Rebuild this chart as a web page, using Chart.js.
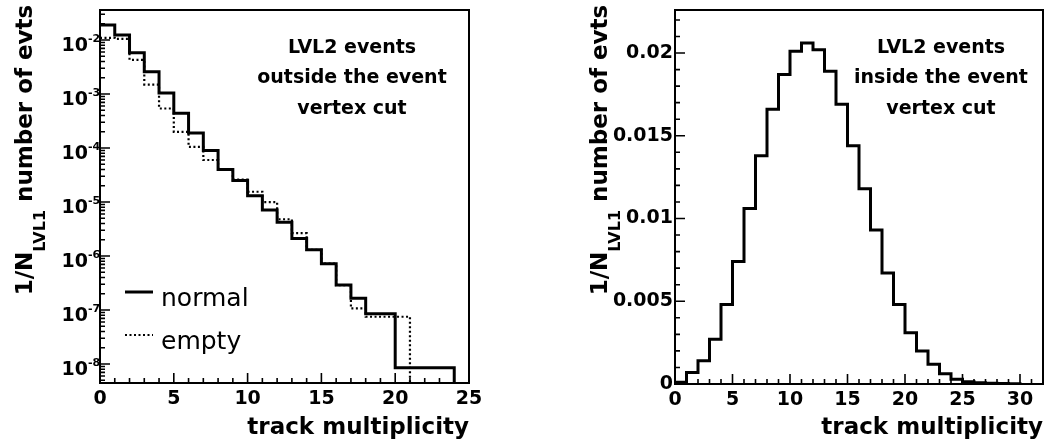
<!DOCTYPE html>
<html>
<head>
<meta charset="utf-8">
<script src="https://cdn.jsdelivr.net/npm/chart.js@4.4.1/dist/chart.umd.min.js"></script>
<style>
    body { margin: 0; background: #fff; }
    #wrap { position: relative; width: 1046px; height: 446px; overflow: hidden; }
    .pad { position: absolute; top: 0; height: 446px; }
</style>
</head>
<body>
<div id="wrap">
    <div class="pad" style="left: 0; width: 489px;"><canvas id="outsideChart"></canvas></div>
    <div class="pad" style="left: 575px; width: 471px;"><canvas id="insideChart"></canvas></div>
</div>
<script>
// Bin contents per unit-width bin, starting at track multiplicity 0
const outsideNormal = [0.019, 0.0124, 0.0058, 0.0026, 0.00105, 4.4e-4, 1.9e-4, 9.0e-5,
    4.0e-5, 2.5e-5, 1.3e-5, 7.1e-6, 4.2e-6, 2.1e-6, 1.3e-6, 7.2e-7, 2.9e-7, 1.65e-7,
    8.5e-8, 8.5e-8, 8.5e-9, 8.5e-9, 8.5e-9, 8.5e-9];
const outsideEmpty = [0.011, 0.0105, 0.0043, 0.0015, 5.4e-4, 2.0e-4, 1.05e-4, 6.0e-5,
    4.0e-5, 2.6e-5, 1.55e-5, 1.0e-5, 4.8e-6, 2.65e-6, 1.3e-6, 7.2e-7, 2.9e-7, 1.07e-7,
    7.5e-8, 7.5e-8, 7.5e-8];
const insideCounts = [0.0001, 0.0007, 0.0014, 0.0027, 0.0048, 0.0074, 0.0106, 0.0138,
    0.0166, 0.0187, 0.0201, 0.0206, 0.0202, 0.0189, 0.0169, 0.0144, 0.0118, 0.0093,
    0.0067, 0.0048, 0.0031, 0.0020, 0.0012, 0.00062, 0.00028, 0.00014, 0.00007,
    0.00005, 0.00003, 0.00002];

// Axis ranges and tick labels
const outsideXTicks = [0, 5, 10, 15, 20, 25];
const outsideYDecades = [-8, -7, -6, -5, -4, -3, -2];
const outsideYMin = 4.45e-9;
const outsideYMax = 0.036;
const insideXTicks = [0, 5, 10, 15, 20, 25, 30];
const insideYTicks = [0, 0.005, 0.01, 0.015, 0.02];
const insideYMax = 0.0226;

const seriesLabels = ['normal', 'empty'];
const outsideNote = ['LVL2 events', 'outside the event', 'vertex cut'];
const insideNote = ['LVL2 events', 'inside the event', 'vertex cut'];
const xTitle = 'track multiplicity';

const FONT = "'DejaVu Sans', sans-serif";
Chart.defaults.font.family = FONT;
Chart.defaults.color = '#000';

// Turn bin contents into step points, closing the last bin down to the axis
function histogramPoints(contents, floor) {
    const pts = contents.map((v, i) => ({ x: i, y: v }));
    const n = contents.length;
    pts.push({ x: n, y: contents[n - 1] });
    pts.push({ x: n, y: floor });
    return pts;
}

// Rotated y title with the LVL1 subscript
function drawYTitle(ctx, baseX, centerY) {
    const main = 'bold 23px ' + FONT;
    const sub = 'bold 16px ' + FONT;
    const parts = [['1/N', main, 0], ['LVL1', sub, 13], [' number of evts', main, 0]];
    let total = 0;
    parts.forEach(p => { ctx.font = p[1]; total += ctx.measureText(p[0]).width; });
    ctx.save();
    ctx.translate(baseX, centerY);
    ctx.rotate(-Math.PI / 2);
    ctx.textAlign = 'left';
    ctx.textBaseline = 'alphabetic';
    let pos = -total / 2;
    parts.forEach(p => {
        ctx.font = p[1];
        ctx.fillText(p[0], pos, p[2]);
        pos += ctx.measureText(p[0]).width;
    });
    ctx.restore();
}

// Frame, inward ticks, decade labels, note text and legend
const rootStyle = {
    id: 'rootStyle',
    afterDraw(chart, args, opts) {
        const { ctx, chartArea: area } = chart;
        const x = chart.scales.x;
        const y = chart.scales.y;
        ctx.save();
        ctx.strokeStyle = '#000';
        ctx.fillStyle = '#000';

        ctx.lineWidth = 1.6;
        ctx.beginPath();
        for (let i = 0; i * opts.xMinor <= x.max + 1e-9; i++) {
            const px = x.getPixelForValue(i * opts.xMinor);
            const len = i % opts.xPerMajor === 0 ? 10 : 5;
            ctx.moveTo(px, area.bottom);
            ctx.lineTo(px, area.bottom - len);
        }
        if (y.type === 'logarithmic') {
            const lo = Math.floor(Math.log10(y.min));
            const hi = Math.ceil(Math.log10(y.max));
            for (let e = lo; e <= hi; e++) {
                for (let m = 1; m <= 9; m++) {
                    const v = m * Math.pow(10, e);
                    if (v < y.min || v > y.max) continue;
                    const py = y.getPixelForValue(v);
                    ctx.moveTo(area.left, py);
                    ctx.lineTo(area.left + (m === 1 ? 10 : 5), py);
                }
            }
        } else {
            for (let i = 0; i * opts.yMinor <= y.max + 1e-12; i++) {
                const py = y.getPixelForValue(i * opts.yMinor);
                ctx.moveTo(area.left, py);
                ctx.lineTo(area.left + (i % opts.yPerMajor === 0 ? 10 : 5), py);
            }
        }
        ctx.stroke();

        ctx.lineWidth = 2;
        ctx.strokeRect(area.left, area.top, area.width, area.height);

        // 10^n labels on the log axis
        if (opts.decades) {
            opts.decades.forEach(e => {
                const py = y.getPixelForValue(Math.pow(10, e));
                const right = area.left - 12;
                ctx.font = 'bold 19px ' + FONT;
                ctx.textAlign = 'right';
                ctx.textBaseline = 'alphabetic';
                ctx.fillText('10', right, py + 11);
                ctx.font = 'bold 11px ' + FONT;
                ctx.textAlign = 'left';
                ctx.fillText(String(e), right, py + 2);
            });
        }

        drawYTitle(ctx, area.left - 68, 150);

        ctx.font = 'bold 19px ' + FONT;
        ctx.textAlign = 'center';
        ctx.textBaseline = 'middle';
        opts.note.forEach((line, i) => {
            ctx.fillText(line, area.left + opts.noteX, area.top + 38 + i * 30.5);
        });

        if (opts.legend) {
            chart.data.datasets.forEach((ds, i) => {
                const ly = area.top + 282 + i * 43;
                ctx.lineWidth = ds.borderWidth;
                ctx.setLineDash(ds.borderDash || []);
                ctx.beginPath();
                ctx.moveTo(area.left + 25, ly);
                ctx.lineTo(area.left + 53, ly);
                ctx.stroke();
                ctx.setLineDash([]);
                ctx.font = '25px ' + FONT;
                ctx.textAlign = 'left';
                ctx.textBaseline = 'alphabetic';
                ctx.fillText(ds.label, area.left + 61, ly + 14);
            });
        }
        ctx.restore();
    }
};

function xScale(max, ticks, height) {
    return {
        type: 'linear',
        min: 0,
        max: max,
        grid: { display: false, drawTicks: false },
        border: { display: false },
        afterBuildTicks: s => { s.ticks = ticks.map(v => ({ value: v })); },
        afterFit: s => { s.height = height; },
        ticks: {
            font: { size: 19, weight: 'bold' },
            color: '#000',
            padding: 5,
            maxRotation: 0,
            autoSkip: false
        },
        title: {
            display: true,
            text: xTitle,
            align: 'end',
            color: '#000',
            font: { size: 23, weight: 'bold' },
            padding: { top: 0, bottom: 4 }
        }
    };
}

// Log-scale chart of events outside the vertex cut
function createOutsideChart() {
    const ctx = document.getElementById('outsideChart');
    return new Chart(ctx, {
        type: 'line',
        data: {
            datasets: [
                {
                    label: seriesLabels[0],
                    data: histogramPoints(outsideNormal, outsideYMin),
                    borderColor: '#000',
                    borderWidth: 3,
                    stepped: true,
                    pointRadius: 0,
                    fill: false
                },
                {
                    label: seriesLabels[1],
                    data: histogramPoints(outsideEmpty, outsideYMin),
                    borderColor: '#000',
                    borderWidth: 2.2,
                    borderDash: [2, 2.5],
                    stepped: true,
                    pointRadius: 0,
                    fill: false
                }
            ]
        },
        options: {
            responsive: true,
            maintainAspectRatio: false,
            animation: false,
            layout: { padding: { top: 10, right: 20, left: 0, bottom: 0 } },
            plugins: {
                legend: { display: false },
                tooltip: { enabled: false },
                rootStyle: {
                    xMinor: 1, xPerMajor: 5,
                    decades: outsideYDecades,
                    note: outsideNote, noteX: 252,
                    legend: true
                }
            },
            scales: {
                x: xScale(25, outsideXTicks, 63),
                y: {
                    type: 'logarithmic',
                    min: outsideYMin,
                    max: outsideYMax,
                    grid: { display: false, drawTicks: false },
                    border: { display: false },
                    ticks: { display: false },
                    afterFit: s => { s.width = 100; s.paddingTop = 0; }
                }
            }
        },
        plugins: [rootStyle]
    });
}

// Linear chart of events inside the vertex cut
function createInsideChart() {
    const ctx = document.getElementById('insideChart');
    return new Chart(ctx, {
        type: 'line',
        data: {
            datasets: [
                {
                    label: 'inside',
                    data: histogramPoints(insideCounts, 0),
                    borderColor: '#000',
                    borderWidth: 3,
                    stepped: true,
                    pointRadius: 0,
                    fill: false
                }
            ]
        },
        options: {
            responsive: true,
            maintainAspectRatio: false,
            animation: false,
            layout: { padding: { top: 10, right: 3, left: 0, bottom: 0 } },
            plugins: {
                legend: { display: false },
                tooltip: { enabled: false },
                rootStyle: {
                    xMinor: 1, xPerMajor: 5,
                    yMinor: 0.001, yPerMajor: 5,
                    note: insideNote, noteX: 266,
                    legend: false
                }
            },
            scales: {
                x: xScale(32, insideXTicks, 62),
                y: {
                    type: 'linear',
                    min: 0,
                    max: insideYMax,
                    grid: { display: false, drawTicks: false },
                    border: { display: false },
                    afterBuildTicks: s => { s.ticks = insideYTicks.map(v => ({ value: v })); },
                    afterFit: s => { s.width = 100; s.paddingTop = 0; },
                    ticks: {
                        font: { size: 19, weight: 'bold' },
                        color: '#000',
                        padding: 2,
                        callback: v => String(v)
                    }
                }
            }
        },
        plugins: [rootStyle]
    });
}

createOutsideChart();
createInsideChart();
</script>
</body>
</html>
